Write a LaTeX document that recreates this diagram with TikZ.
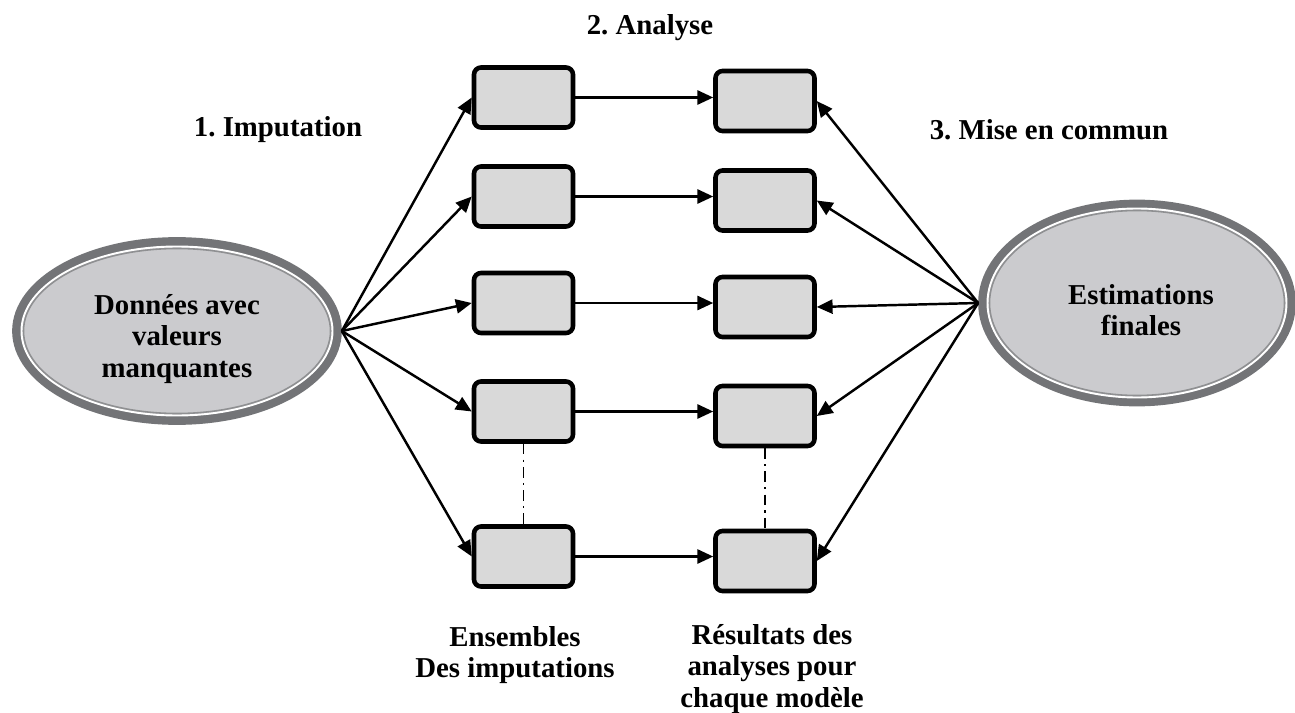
\documentclass[tikz,border=0pt]{standalone}
\usepackage{fontspec}
\setmainfont{Liberation Serif}
\usetikzlibrary{arrows.meta}
\usetikzlibrary{shapes.geometric}
\usetikzlibrary{positioning}
\frenchspacing

\definecolor{ringgray}{RGB}{115,116,119}
\definecolor{ovalgray}{RGB}{203,203,206}
\definecolor{boxgray}{RGB}{217,217,217}

\tikzset{
  box/.style={draw, line width=2.6pt, rounded corners=4pt, fill=boxgray,
    minimum width=1.98cm, minimum height=1.2cm, inner sep=0pt},
  oval/.style={ellipse, draw=ringgray, line width=5pt, fill=ovalgray,
    inner sep=0pt},
  link/.style={-{Triangle[length=9pt,width=8pt]}, line width=1.4pt},
  dashdot/.style={line width=1pt, dash pattern=on 6pt off 3pt on 1.2pt off 3pt},
  lab/.style={align=center}
}

\begin{document}
\begin{tikzpicture}[x=0.02cm, y=-0.02cm,
  font=\fontsize{16.4}{18}\selectfont\bfseries]
 \useasboundingbox (0,0) rectangle (1295,713);

 %left and right ovals
 \node[oval, minimum width=6.42cm, minimum height=3.58cm] (D) at (177,331) {};
 \draw[white, line width=1.1pt] (D.center) ellipse [x radius=155.5, y radius=84.5];
 \draw[ringgray!80, line width=0.9pt] (D.center) ellipse [x radius=153.5, y radius=82.5];
 \node[lab] (Dtext) at (177,339) {Données avec\\valeurs\\manquantes};

 \node[oval, minimum width=6.18cm, minimum height=3.96cm] (F) at (1137,303) {};
 \draw[white, line width=1.1pt] (F.center) ellipse [x radius=149.5, y radius=94.5];
 \draw[ringgray!80, line width=0.9pt] (F.center) ellipse [x radius=147.5, y radius=92.5];
 \node[lab] (Ftext) at (1141,310) {Estimations\\finales};

 %imputed sets and results
 \foreach \i/\y/\yy in {1/97.5/101, 2/196.5/200.5, 3/303/307, 4/411.5/416, 5/556.5/561} {
   \node[box] (E\i) at (523.5,\y) {};
   \node[box] (R\i) at (765,\yy) {};
   \draw[link] (E\i.east) -- (E\i.east -| R\i.west);
   \draw[link] (D.east) -- (E\i.west);
   \draw[link] (F.west) -- (R\i.east);
 }

 %dots between the sets
 \draw[dashdot] (E4.south) -- (E5.north);
 \draw[dashdot] (R4.south) -- (R5.north);

 %steps
 \node[lab] (S1) at (278,130) {1. Imputation};
 \node[lab] (S2) at (650,28) {2. Analyse};
 \node[lab] (S3) at (1049,130) {3. Mise en commun};

 \node[lab] (C1) at (515,655) {Ensembles\\Des imputations};
 \node[lab] (C2) at (772,669) {Résultats des\\analyses pour\\chaque modèle};

\end{tikzpicture}
\end{document}
